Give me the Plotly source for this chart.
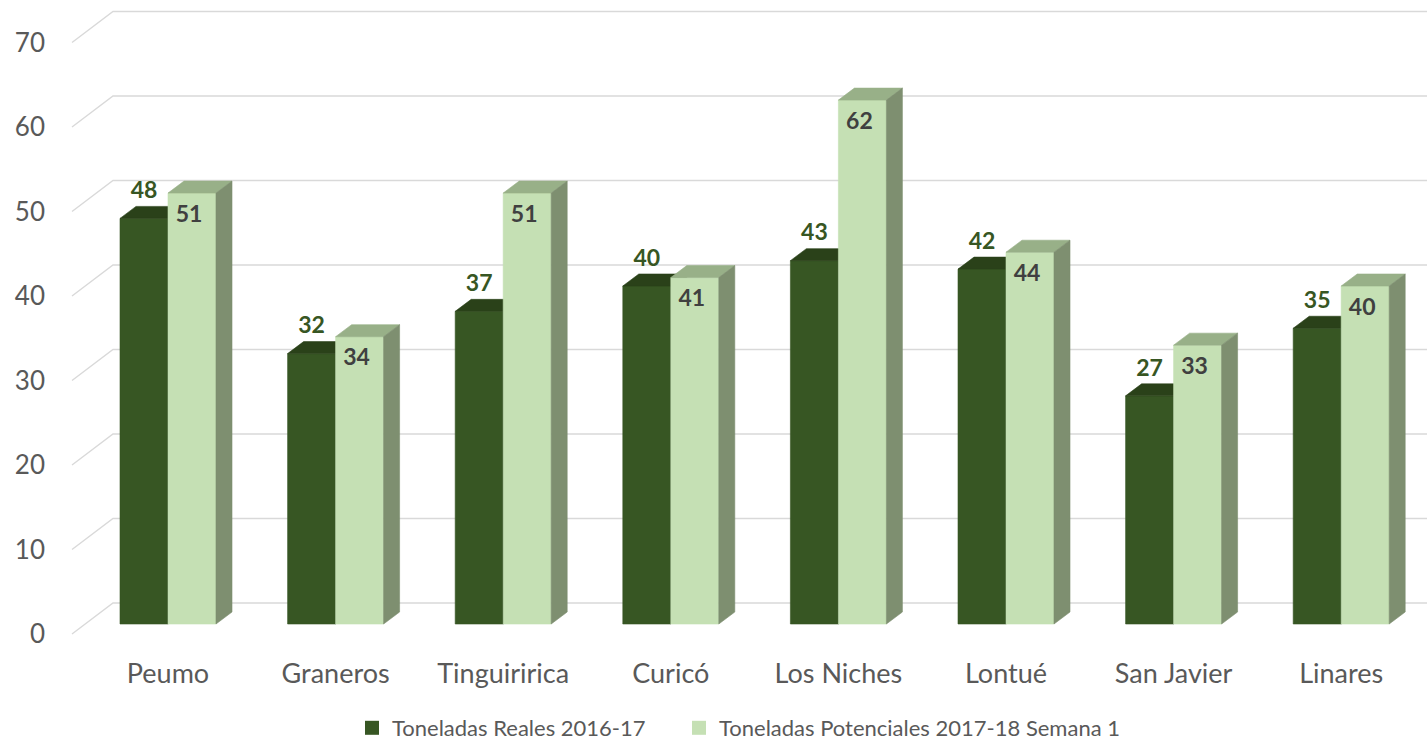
import plotly.graph_objects as go

# ---------------- data ----------------
categories = ["Peumo", "Graneros", "Tinguiririca", "Curicó", "Los Niches", "Lontué", "San Javier", "Linares"]
reales = [48, 32, 37, 40, 43, 42, 27, 35]
potenciales = [51, 34, 51, 41, 62, 44, 33, 40]
y_ticks = [0, 10, 20, 30, 40, 50, 60, 70]
series_names = ["Toneladas Reales 2016-17", "Toneladas Potenciales 2017-18 Semana 1"]

# ---------------- geometry (page pixel based, converted to axis units) ----------------
W, H = 1427, 742
PLOT_LEFT = 46
PLOT_BOTTOM = 655
T_MARGIN = 0
L_MARGIN = PLOT_LEFT
B_MARGIN = H - PLOT_BOTTOM
PLOT_TOP = T_MARGIN
PLOT_RIGHT = W

PX_Y = 8.45          # pixels per value unit
PX_X = 167.6         # pixels per category
FIRST_CENTER = 168   # x of first category center
ZERO_PX = 624        # y of value 0 on the bars' front plane

def ux(px):
    return px / PX_X

def uy(px):
    return px / PX_Y

x_lo = (PLOT_LEFT - FIRST_CENTER) / PX_X
x_hi = (PLOT_RIGHT - FIRST_CENTER) / PX_X
y_lo = (ZERO_PX - PLOT_BOTTOM) / PX_Y
y_hi = (ZERO_PX - PLOT_TOP) / PX_Y

bw = ux(48)
ddx, ddy = ux(16), uy(12)
floor_front_dy = uy(10)
wall_dy = uy(21)
x_floor_front = (72 - FIRST_CENTER) / PX_X
x_wall = (113 - FIRST_CENTER) / PX_X

DARK = "#375623"
DARK_TOP = "#2a4119"
DARK_SIDE = "#24391a"
LIGHT = "#c5e0b4"
LIGHT_TOP = "#98b088"
LIGHT_SIDE = "#7e8f70"
GRID = "#d9d9d9"
TXT = "#595959"
FONT = "Lato"

fig = go.Figure()

gx, gy = [], []
for t in y_ticks:
    gx += [x_floor_front, x_wall, x_hi + 0.5, None]
    gy += [t - floor_front_dy, t + wall_dy, t + wall_dy, None]
fig.add_trace(go.Scatter(x=gx, y=gy, mode="lines", line=dict(color=GRID, width=1.4),
                         hoverinfo="skip", showlegend=False))

def faces(values, left_off):
    fx, fy, tx, ty, sx, sy = [], [], [], [], [], []
    for i, v in enumerate(values):
        x0 = i + left_off
        x1 = x0 + bw
        fx += [x0, x1, x1, x0, x0, None]
        fy += [0, 0, v, v, 0, None]
        tx += [x0, x1, x1 + ddx, x0 + ddx, x0, None]
        ty += [v, v, v + ddy, v + ddy, v, None]
        sx += [x1, x1 + ddx, x1 + ddx, x1, x1, None]
        sy += [0, ddy, v + ddy, v, 0, None]
    return (fx, fy), (tx, ty), (sx, sy)

def poly(xy, color):
    return go.Scatter(x=xy[0], y=xy[1], mode="lines", fill="toself", fillcolor=color,
                      line=dict(color=color, width=0.6), hoverinfo="skip", showlegend=False)

df, dt, ds = faces(reales, -bw)
lf, lt, ls = faces(potenciales, 0)
for xy, c in [(df, DARK), (dt, DARK_TOP), (ds, DARK_SIDE), (lf, LIGHT), (lt, LIGHT_TOP), (ls, LIGHT_SIDE)]:
    fig.add_trace(poly(xy, c))

fig.add_trace(go.Scatter(
    x=[i - bw / 2 for i in range(len(reales))],
    y=[v + uy(26) for v in reales],
    mode="text", text=[str(v) for v in reales],
    textfont=dict(family=FONT, size=23, color=DARK, weight="bold"),
    hoverinfo="skip", showlegend=False))
fig.add_trace(go.Scatter(
    x=[i + bw / 2 - ux(3) for i in range(len(potenciales))],
    y=[v - uy(23) for v in potenciales],
    mode="text", text=[str(v) for v in potenciales],
    textfont=dict(family=FONT, size=23, color="#404040", weight="bold"),
    hoverinfo="skip", showlegend=False))

legend_ids = ["legend", "legend2"]
for name, c, lg in zip(series_names, [DARK, LIGHT], legend_ids):
    fig.add_trace(go.Scatter(x=[None], y=[None], mode="markers", name=name, legend=lg,
                             marker=dict(symbol="square", size=14, color=c)))

plot_w = W - L_MARGIN
plot_h = H - T_MARGIN - B_MARGIN
leg_y = (PLOT_BOTTOM - 728) / plot_h

def leg(page_x):
    return dict(orientation="h", xanchor="left", yanchor="middle",
                x=(page_x - PLOT_LEFT) / plot_w, y=leg_y,
                font=dict(size=22, color=TXT, family=FONT), itemwidth=30,
                bgcolor="rgba(0,0,0,0)")

fig.update_layout(
    width=W, height=H,
    margin=dict(l=L_MARGIN, r=0, t=T_MARGIN, b=B_MARGIN, autoexpand=False),
    paper_bgcolor="white", plot_bgcolor="white",
    font=dict(family=FONT, color=TXT),
    showlegend=True,
    legend=leg(352),
    legend2=leg(679),
    xaxis=dict(range=[x_lo, x_hi], tickmode="array", tickvals=list(range(len(categories))),
               ticktext=categories, showgrid=False, zeroline=False, showline=False,
               automargin=False,
               ticks="", tickfont=dict(size=27, color=TXT, family=FONT), ticklabelstandoff=0),
    yaxis=dict(range=[y_lo, y_hi], tickmode="array", automargin=False,
               tickvals=[t - floor_front_dy for t in y_ticks], ticktext=[str(t) for t in y_ticks],
               showgrid=False, zeroline=False, showline=False, ticks="",
               tickfont=dict(size=26, color=TXT, family=FONT)),
)

fig.write_html("out.html", config={"displayModeBar": False},
               post_script="document.body.style.margin='0';document.body.style.overflow='hidden';")
